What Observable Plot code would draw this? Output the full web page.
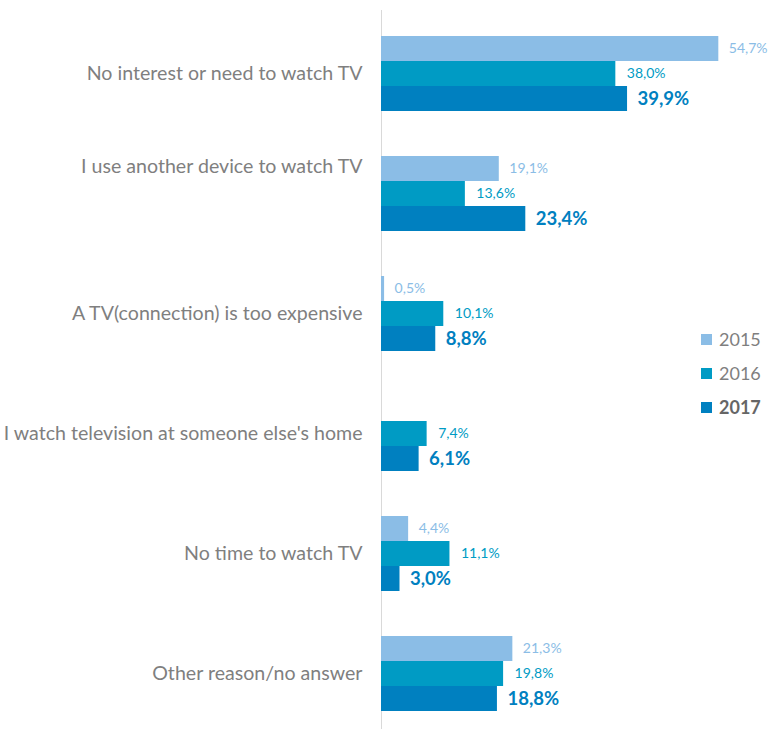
<!DOCTYPE html>
<html>
<head>
<meta charset="utf-8">
<script src="https://cdn.jsdelivr.net/npm/d3@7"></script>
<script src="https://cdn.jsdelivr.net/npm/@observablehq/plot@0.6"></script>
<style>
  body { margin: 0; background: #fff; }
  #wrap { position: relative; width: 771px; height: 729px; font-family: Lato, "Open Sans", sans-serif; }
  .legend { position: absolute; left: 701px; top: 322px; }
  .legend .item { display: flex; align-items: center; height: 34px; font-size: 18px; color: #7f7f7f; }
  .legend .sw { width: 11px; height: 11px; margin-right: 7px; }
  .legend .bold { font-weight: bold; color: #666; }
</style>
</head>
<body>
<div id="wrap"></div>
<script>
const categories = [
  "No interest or need to watch TV",
  "I use another device to watch TV",
  "A TV(connection) is too expensive",
  "I watch television at someone else's home",
  "No time to watch TV",
  "Other reason/no answer"
];
const years = ["2015", "2016", "2017"];
const v2015 = [54.7, 19.1, 0.5, null, 4.4, 21.3];
const v2016 = [38.0, 13.6, 10.1, 7.4, 11.1, 19.8];
const v2017 = [39.9, 23.4, 8.8, 6.1, 3.0, 18.8];
const colors = ["#8bbde6", "#009bc4", "#0080c0"];

const toRows = (vals) => categories.map((c, i) => ({category: c, value: vals[i]})).filter(d => d.value != null);
const d2015 = toRows(v2015), d2016 = toRows(v2016), d2017 = toRows(v2017);
const fmt = d => d.value.toFixed(1).replace(".", ",") + "%";
const shifted = "I use another device to watch TV";

const chart = Plot.plot({
  width: 771,
  height: 729,
  marginLeft: 381,
  marginRight: 20,
  marginTop: 10,
  marginBottom: 0,
  x: {domain: [0, 60], axis: null},
  y: {domain: categories, paddingInner: 0.3786, paddingOuter: 0.168, align: 0.58, axis: null},
  style: {fontFamily: "Lato, 'Open Sans', sans-serif", background: "white"},
  marks: [
    Plot.ruleX([0], {stroke: "#d9d9d9"}),
    Plot.barX(d2015, {x: "value", y: "category", fill: colors[0], insetBottom: 50}),
    Plot.barX(d2016, {x: "value", y: "category", fill: colors[1], insetTop: 25, insetBottom: 25}),
    Plot.barX(d2017, {x: "value", y: "category", fill: colors[2], insetTop: 50}),
    Plot.text(d2015, {x: "value", y: "category", text: fmt, dx: 10, dy: -25, textAnchor: "start", fill: colors[0], fontSize: 14}),
    Plot.text(d2016, {x: "value", y: "category", text: fmt, dx: 11, dy: 0, textAnchor: "start", fill: colors[1], fontSize: 14}),
    Plot.text(d2017, {x: "value", y: "category", text: fmt, dx: 10, dy: 25, textAnchor: "start", fill: colors[2], fontSize: 18.5, fontWeight: "bold"}),
    Plot.text(categories.filter(c => c !== shifted), {x: 0, y: d => d, text: d => d, dx: -19, textAnchor: "end", fill: "#7f7f7f", fontSize: 19.6}),
    Plot.text([shifted], {x: 0, y: d => d, text: d => d, dx: -19, dy: -27, textAnchor: "end", fill: "#7f7f7f", fontSize: 19.6})
  ]
});

const wrap = document.getElementById("wrap");
wrap.appendChild(chart);

const legend = document.createElement("div");
legend.className = "legend";
years.forEach((y, i) => {
  const item = document.createElement("div");
  item.className = "item" + (i === 2 ? " bold" : "");
  const sw = document.createElement("span");
  sw.className = "sw";
  sw.style.background = colors[i];
  const t = document.createElement("span");
  t.textContent = y;
  item.appendChild(sw);
  item.appendChild(t);
  legend.appendChild(item);
});
wrap.appendChild(legend);
</script>
</body>
</html>
